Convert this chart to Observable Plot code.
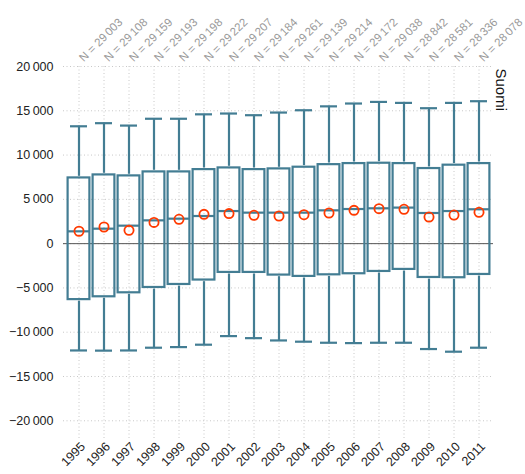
<!DOCTYPE html>
<html>
<head>
<meta charset="utf-8">
<script src="https://cdn.jsdelivr.net/npm/d3@7"></script>
<script src="https://cdn.jsdelivr.net/npm/@observablehq/plot@0.6"></script>
<style>
  html, body { margin: 0; padding: 0; background: #fff; }
</style>
</head>
<body>
<div id="chart"></div>
<script>
const years = ["1995","1996","1997","1998","1999","2000","2001","2002","2003","2004","2005","2006","2007","2008","2009","2010","2011"];
const nobs = [29003, 29108, 29159, 29193, 29198, 29222, 29207, 29184, 29261, 29139, 29214, 29172, 29038, 28842, 28581, 28336, 28078];
const whiskerHigh = [13250, 13600, 13330, 14100, 14100, 14600, 14690, 14500, 14800, 15060, 15500, 15820, 16000, 15890, 15290, 15890, 16080];
const q3 = [7600, 7940, 7830, 8280, 8280, 8540, 8730, 8540, 8620, 8810, 9100, 9220, 9260, 9220, 8660, 9040, 9220];
const median = [1390, 1690, 2030, 2630, 2820, 3120, 3680, 3500, 3500, 3500, 3760, 3910, 3990, 4070, 3460, 3680, 3880];
const mean = [1400, 1880, 1500, 2400, 2750, 3310, 3390, 3200, 3120, 3270, 3460, 3760, 3950, 3880, 3000, 3230, 3540];
const q1 = [-6500, -6180, -5730, -5130, -4790, -4290, -3430, -3430, -3730, -3880, -3700, -3580, -3320, -3090, -4000, -4030, -3660];
const whiskerLow = [-12060, -12080, -12060, -11750, -11680, -11410, -10440, -10670, -10930, -11070, -11190, -11230, -11190, -11190, -11900, -12200, -11750];
const yTicks = [-20000, -15000, -10000, -5000, 0, 5000, 10000, 15000, 20000];
const panelLabel = "Suomi";

const data = years.map((year, i) => ({
  year, n: nobs[i], hi: whiskerHigh[i], q3: q3[i], med: median[i], mean: mean[i], q1: q1[i], lo: whiskerLow[i]
}));

const loc = d3.formatLocale({decimal: ",", thousands: "\u2009", grouping: [3], currency: ["", ""], minus: "\u2212"});
const fmt = loc.format(",d");

const teal = "#437d93";
const red = "#ff3a00";

const chart = Plot.plot({
  width: 525,
  height: 474,
  marginTop: 66,
  marginBottom: 36,
  marginLeft: 63,
  marginRight: 32,
  style: {fontFamily: "'Liberation Sans', Arial, sans-serif", fontSize: "12px", color: "#222", background: "#fff"},
  x: {domain: years, padding: 0, label: null},
  y: {domain: [-22000, 20000], label: null},
  marks: [
    Plot.gridY(yTicks, {stroke: "#c8c8c8", strokeOpacity: 1, strokeDasharray: "1,2.5"}),
    Plot.gridX({stroke: "#c8c8c8", strokeOpacity: 1, strokeDasharray: "1,2.5"}),
    Plot.axisY(yTicks, {tickSize: 0, tickPadding: 10, tickFormat: fmt, label: null, fontSize: 12.5}),
    Plot.axisX({tickSize: 0, tickRotate: -45, tickPadding: 6, label: null, fontSize: 12.5, dx: 4}),
    Plot.ruleY([0], {stroke: "#555", strokeWidth: 1}),
    Plot.ruleX(data, {x: "year", y1: "q3", y2: "hi", stroke: teal, strokeWidth: 2.2}),
    Plot.ruleX(data, {x: "year", y1: "lo", y2: "q1", stroke: teal, strokeWidth: 2.2}),
    Plot.tickY(data, {x: "year", y: "hi", stroke: teal, strokeWidth: 2.2, inset: 4}),
    Plot.tickY(data, {x: "year", y: "lo", stroke: teal, strokeWidth: 2.2, inset: 4}),
    Plot.rectY(data, {x: "year", y1: "q1", y2: "q3", fill: "none", stroke: teal, strokeWidth: 2.2, inset: 1.6}),
    Plot.tickY(data, {x: "year", y: "med", stroke: teal, strokeWidth: 2.2, inset: 1.6}),
    Plot.dot(data, {x: "year", y: "mean", r: 4.6, stroke: red, strokeWidth: 1.8, fill: "none"}),
    Plot.text(data, {x: "year", frameAnchor: "top", text: d => "N = " + fmt(d.n), rotate: -45, textAnchor: "start", dy: -10, dx: -1, fill: "#999", fontSize: 11.5}),
    Plot.text([panelLabel], {frameAnchor: "top-right", text: d => d, rotate: 90, textAnchor: "start", dx: 13, dy: 2, fill: "#111", fontSize: 15})
  ]
});
document.getElementById("chart").appendChild(chart);
</script>
</body>
</html>
